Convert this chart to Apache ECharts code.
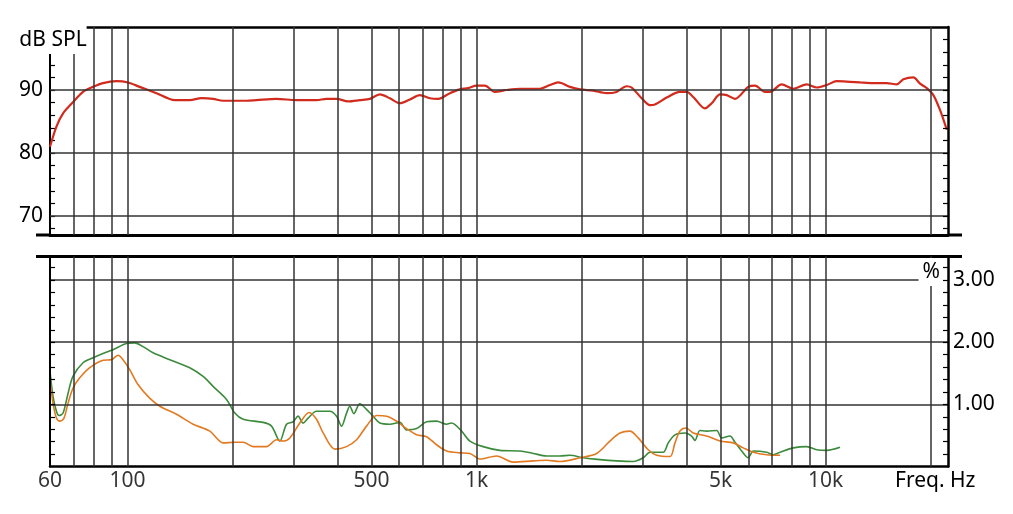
<!DOCTYPE html>
<html><head><meta charset="utf-8">
<script src="https://cdn.jsdelivr.net/npm/echarts@6/dist/echarts.min.js"></script>
<style>html,body{margin:0;padding:0;background:#fff}#c{width:1013px;height:514px}</style>
</head><body><div id="c"></div>
<script>
// ---- data ----
const splFreq = [60,62.6,65.4,69.9,74.6,79.7,85.1,93.0,100.4,108.4,121.1,136.6,150.8,162.9,175.9,187.9,219.3,234.3,267.3,304.9,347.9,371.6,397.1,428.7,463.0,494.6,528.4,564.3,602.8,644.0,688.0,734.9,776.2,838.5,895.6,946.0,1000,1056,1128,1219,1331,1519,1622,1713,1851,1977,2159,2358,2518,2690,2780,2970,3138,3242,3503,3823,3997,4174,4510,4714,4981,5204,5497,6000,6272,6700,6926,7478,8075,8822,9424,10070,10753,11737,12540,13690,14950,15970,16690,17820,18630,19470,20340,21260,22220];
const splDb = [81.0,84.2,86.3,88.1,89.7,90.5,91.1,91.4,91.2,90.5,89.5,88.4,88.4,88.7,88.6,88.3,88.3,88.4,88.6,88.4,88.4,88.6,88.6,88.2,88.4,88.6,89.3,88.7,87.9,88.5,89.2,88.7,88.6,89.5,90.1,90.3,90.7,90.7,89.7,90.0,90.2,90.2,90.8,91.2,90.5,90.1,89.9,89.5,89.7,90.6,90.4,88.7,87.6,87.7,88.8,89.7,89.7,88.9,87.1,87.9,89.3,89.2,88.6,90.5,90.7,89.7,89.7,90.9,90.2,90.9,90.4,90.8,91.4,91.3,91.2,91.1,91.1,90.9,91.7,92.0,91.0,90.3,89.2,86.8,83.7];

const greenFreq = [60,61.2,62.6,63.7,65.4,67.6,69.8,74.6,79.7,85.1,90.9,99.3,104.9,110.8,118.4,132.2,150.8,164.7,175.9,192.2,203.0,214.5,244.7,258.6,273.2,285.5,298.2,308.2,318.5,329.2,347.9,380.0,397.1,410.4,424.2,433.5,445.0,463.0,483.9,505.4,528.4,564.3,602.8,630.0,673.2,719.0,768.1,820.4,847.9,905.7,956.8,1044,1166,1331,1453,1587,1733,1851,2021,2256,2518,2810,3002,3138,3425,3540,3700,3953,4130,4221,4363,4560,4872,5035,5318,5497,5744,6000,6204,6774,7076,7396,8075,8822,9424,10070,10990];
const greenPct = [1.53,1.13,0.89,0.82,0.86,1.18,1.45,1.67,1.75,1.82,1.88,1.98,1.99,1.93,1.83,1.72,1.59,1.45,1.29,1.08,0.86,0.76,0.71,0.65,0.41,0.68,0.72,0.81,0.70,0.78,0.89,0.89,0.81,0.65,0.86,0.97,0.85,1.01,0.92,0.81,0.70,0.68,0.71,0.59,0.61,0.72,0.73,0.68,0.70,0.57,0.41,0.32,0.26,0.25,0.21,0.17,0.17,0.18,0.14,0.11,0.09,0.08,0.14,0.23,0.23,0.38,0.51,0.54,0.49,0.42,0.58,0.57,0.58,0.46,0.49,0.39,0.25,0.14,0.25,0.23,0.19,0.23,0.30,0.32,0.27,0.26,0.31];

const orangeFreq = [60,61.2,62.6,64.0,65.7,67.6,69.8,73.0,78.0,85.1,90.0,94.0,97.1,101.5,107.2,115.8,123.8,138.2,154.2,172.1,187.9,203.0,214.5,229.1,250.2,267.3,279.2,291.8,311.7,331.4,347.9,363.5,392.6,424.2,453.1,483.9,517.1,552.3,589.9,630.0,673.2,719.0,768.1,820.4,895.6,956.8,1022,1141,1273,1453,1587,1733,1977,2207,2410,2574,2749,2904,3102,3280,3580,3700,3823,3979,4174,4560,4981,5435,5805,6204,6774,7396];
const orangePct = [1.40,1.02,0.78,0.73,0.77,1.02,1.26,1.43,1.59,1.71,1.72,1.79,1.72,1.56,1.32,1.10,0.97,0.84,0.68,0.57,0.38,0.39,0.39,0.32,0.32,0.43,0.41,0.46,0.70,0.87,0.76,0.54,0.28,0.32,0.43,0.65,0.82,0.81,0.73,0.61,0.51,0.48,0.35,0.25,0.22,0.21,0.12,0.17,0.07,0.09,0.10,0.08,0.14,0.21,0.41,0.54,0.57,0.46,0.27,0.18,0.16,0.38,0.57,0.62,0.54,0.49,0.41,0.38,0.30,0.23,0.19,0.18];

const gridFreqs = [70,80,90,100,200,300,400,500,600,700,800,900,1000,2000,3000,4000,5000,6000,7000,8000,9000,10000,20000];
const splGridValues = [70,80,90];
const pctGridValues = [1,2,3];
const freqTickValues = [60,100,500,1000,5000,10000];
const freqTickLabels = ['60','100','500','1k','5k','10k'];

// ---- layout / style ----
const FONT = "'Noto Sans','Open Sans',sans-serif";
const FS = 21;
const G0 = {left:50, right:65, top:27, height:208};
const G1 = {left:50, right:65, top:256.5, height:210};
const SPL_MIN = 67, SPL_MAX = 100, PCT_MIN = 0, PCT_MAX = 3.38;
const GRID_COLOR = '#333';

const splMinor = []; for (let v = 68; v <= 98; v += 2) splMinor.push(v);
const pctMinor = []; for (let i = 1; i <= 16; i++) pctMinor.push(+(i * 0.2).toFixed(1));

function xa(grid, pos, lw, extra) {
  return Object.assign({
    type:'log', logBase:10, gridIndex:grid, position:pos, min:60, max:22400,
    axisLine:{show:true, onZero:false, lineStyle:{color:'#000', width:lw}},
    axisTick:{show:false}, axisLabel:{show:false}, splitLine:{show:false},
    minorTick:{show:false}, minorSplitLine:{show:false}, z:3
  }, extra || {});
}
function ya(grid, pos, min, max, lw, ticks, extra) {
  return Object.assign({
    type:'value', gridIndex:grid, position:pos, min:min, max:max,
    axisLine:{show: lw > 0, onZero:false, lineStyle:{color:'#000', width:lw}},
    axisTick:{show: !!ticks, inside:true, length:5, customValues: ticks || undefined, lineStyle:{color:'#000', width:1.2}},
    axisLabel:{show:false}, splitLine:{show:false}, z:6
  }, extra || {});
}

const gridSeries = (xi, yi, hVals) => ({
  type:'line', xAxisIndex:xi, yAxisIndex:yi, data:[], z:1, silent:true,
  markLine:{
    silent:true, symbol:['none','none'], label:{show:false}, animation:false,
    lineStyle:{color:GRID_COLOR, width:1.5, type:'solid'},
    emphasis:{disabled:true},
    data: gridFreqs.map(f => ({xAxis:f})).concat(hVals.map(v => ({yAxis:v})))
  }
});

const option = {
  animation:false,
  backgroundColor:'#fff',
  textStyle:{fontFamily:FONT},
  grid:[G0, G1],
  xAxis:[
    xa(0,'bottom',3),
    xa(0,'top',2.5),
    xa(1,'bottom',2.5,{name:'Freq. Hz', nameLocation:'end', nameGap:-53,
      nameTextStyle:{fontSize:FS, color:'#000', fontFamily:FONT, verticalAlign:'top', align:'left', padding:[4,0,0,0]}}),
    xa(1,'top',3)
  ],
  yAxis:[
    // left line + minor ticks of the SPL panel (drawn below the name box)
    ya(0,'left',SPL_MIN,SPL_MAX,2,splMinor,{z:3}),
    ya(0,'right',SPL_MIN,SPL_MAX,2.5,splMinor),
    ya(1,'left',PCT_MIN,PCT_MAX,2,pctMinor),
    ya(1,'right',PCT_MIN,PCT_MAX,2.5,pctMinor,{
      axisLabel:{show:true, customValues:pctGridValues, fontSize:FS, color:'#000', fontFamily:FONT, margin:5,
        formatter:v => Number(v).toFixed(2)}
    }),
    ya(1,'right',PCT_MIN,PCT_MAX,0,null,{
      name:'%', nameLocation:'end', nameGap:-15.5, nameMoveOverlap:false,
      nameTextStyle:{fontSize:FS, color:'#000', fontFamily:FONT, align:'right', verticalAlign:'middle',
        backgroundColor:'#fff', padding:[3,8,4,4]}, z:5
    }),
    // labels + name of the SPL panel, on top
    ya(0,'left',SPL_MIN,SPL_MAX,0,null,{
      axisLabel:{show:true, customValues:splGridValues, fontSize:FS, color:'#000', fontFamily:FONT, margin:7},
      name:'dB SPL', nameLocation:'end', nameGap:-13, nameMoveOverlap:false,
      nameTextStyle:{fontSize:FS, color:'#000', fontFamily:FONT, align:'center', verticalAlign:'middle',
        backgroundColor:'#fff', padding:[4,0,3,6]}, z:8
    })
  ],
  series:[
    gridSeries(0,0,splGridValues),
    gridSeries(2,2,pctGridValues),
    {type:'line', name:'SPL', xAxisIndex:0, yAxisIndex:0, z:3, silent:true, showSymbol:false, smooth:0.3,
     lineStyle:{color:'#d22a1c', width:2.2}, data: splFreq.map((f,i)=>[f, splDb[i]])},
    {type:'line', name:'H2', xAxisIndex:2, yAxisIndex:2, z:3, silent:true, showSymbol:false, smooth:0.3,
     lineStyle:{color:'#3c8b3c', width:1.6}, data: greenFreq.map((f,i)=>[f, greenPct[i]])},
    {type:'line', name:'H3', xAxisIndex:2, yAxisIndex:2, z:4, silent:true, showSymbol:false, smooth:0.3,
     lineStyle:{color:'#e27a22', width:1.6}, data: orangeFreq.map((f,i)=>[f, orangePct[i]])},
    {type:'scatter', xAxisIndex:2, yAxisIndex:2, z:5, silent:true, clip:false, symbolSize:1,
     itemStyle:{color:'rgba(0,0,0,0)'},
     label:{show:true, position:'bottom', distance:4, formatter:'{b}', fontSize:FS, color:'#000', fontFamily:FONT},
     data: freqTickValues.map((f,i)=>({value:[f, PCT_MIN], name:freqTickLabels[i]}))}
  ],
  graphic:[
    {type:'line', shape:{x1:36, y1:G0.top+G0.height, x2:G0.left, y2:G0.top+G0.height}, style:{stroke:'#000', lineWidth:3}},
    {type:'line', shape:{x1:1013-G0.right, y1:G0.top+G0.height, x2:962, y2:G0.top+G0.height}, style:{stroke:'#000', lineWidth:3}},
    {type:'line', shape:{x1:36, y1:G1.top, x2:G1.left, y2:G1.top}, style:{stroke:'#000', lineWidth:3}},
    {type:'line', shape:{x1:1013-G1.right, y1:G1.top, x2:962, y2:G1.top}, style:{stroke:'#000', lineWidth:3}}
  ]
};
const chart = echarts.init(document.getElementById('c'), null, {renderer:'canvas'});
chart.setOption(option);
</script></body></html>
